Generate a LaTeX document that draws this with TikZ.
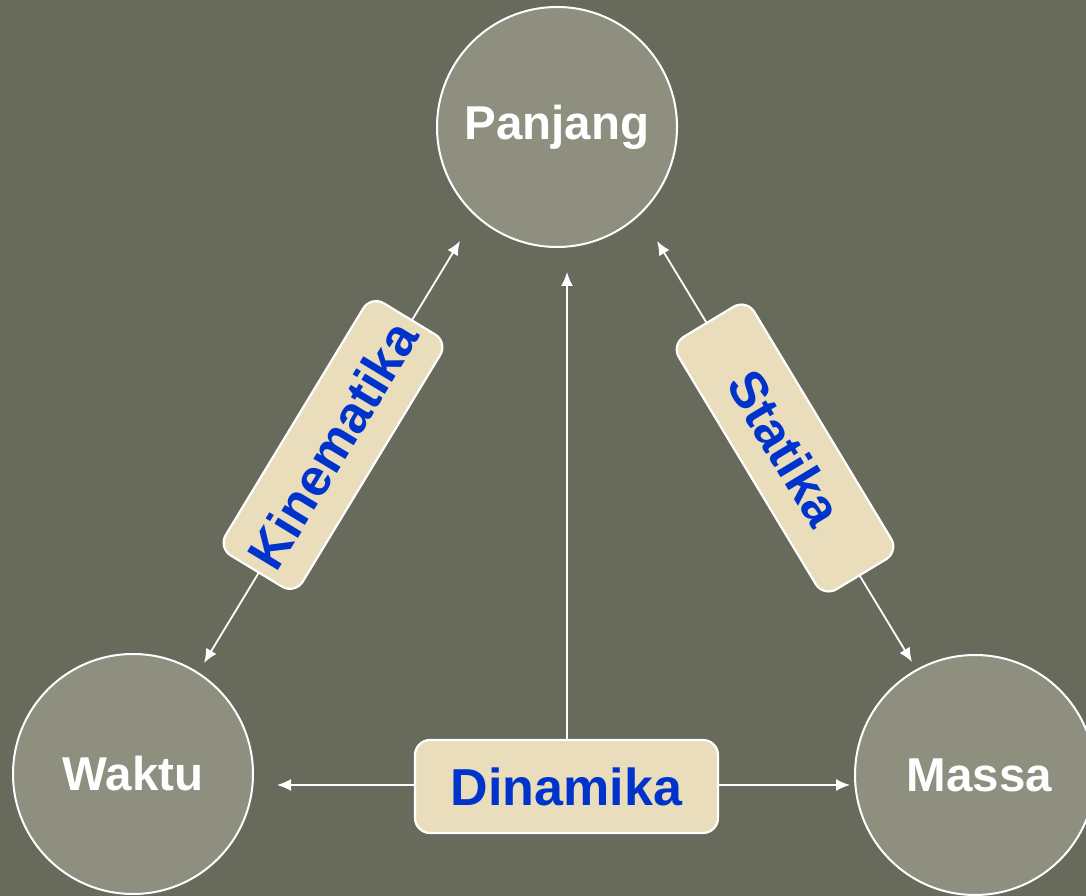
\documentclass[tikz,border=0pt]{standalone}
\usepackage{fontspec}
\setmainfont{Liberation Sans}
\usetikzlibrary{arrows.meta}
\definecolor{bg}{RGB}{104,106,92}
\definecolor{circfill}{RGB}{143,143,128}
\definecolor{boxfill}{RGB}{233,221,188}
\definecolor{txtblue}{RGB}{0,51,204}
\tikzset{
  quantity/.style={circle, draw=white, line width=2pt, fill=circfill, minimum size=240pt, inner sep=0pt,
    text=white, font=\bfseries\fontsize{47.5}{50}\selectfont},
  branch/.style={draw=white, line width=2.2pt, fill=boxfill, rounded corners=15pt, inner sep=0pt,
    text=txtblue, font=\bfseries\fontsize{52}{56}\selectfont},
  arr/.style={draw=white, line width=1.8pt, -{Latex[length=14pt,width=12pt]}},
  darr/.style={draw=white, line width=1.8pt, {Latex[length=14pt,width=12pt]}-{Latex[length=14pt,width=12pt]}}
}
\begin{document}
\begin{tikzpicture}[x=1pt,y=1pt]
\fill[bg] (0,0) rectangle (1086,896);
\useasboundingbox (0,0) rectangle (1086,896);
\node[quantity] (P) at (557,769) {Panjang};
\node[quantity] (W) at (133,122) {Waktu};
\node[quantity] (M) at (975,121) {\hspace*{9pt}Massa};
% free ends
\coordinate (k1) at (460,655);
\coordinate (k2) at (204,233);
\coordinate (s1) at (657,655);
\coordinate (s2) at (912,234);
\coordinate (d1) at (277,111);
\coordinate (d2) at (850,111);
\coordinate (v1) at (567,624);
\draw[darr] (k1) -- (k2);
\draw[darr] (s1) -- (s2);
\draw[darr] (d1) -- (d2);
\node[branch, minimum width=295pt, minimum height=90pt, rotate=58.75] (kin) at (333,451) {Kinematika};
\node[branch, minimum width=295pt, minimum height=88pt, rotate=-58.9] (stat) at (785,448) {Statika};
\node[branch, minimum width=303pt, minimum height=93pt] (din) at (566.5,109.5) {Dinamika};
\draw[arr] (din.north -| v1) -- (v1);
\end{tikzpicture}
\end{document}
